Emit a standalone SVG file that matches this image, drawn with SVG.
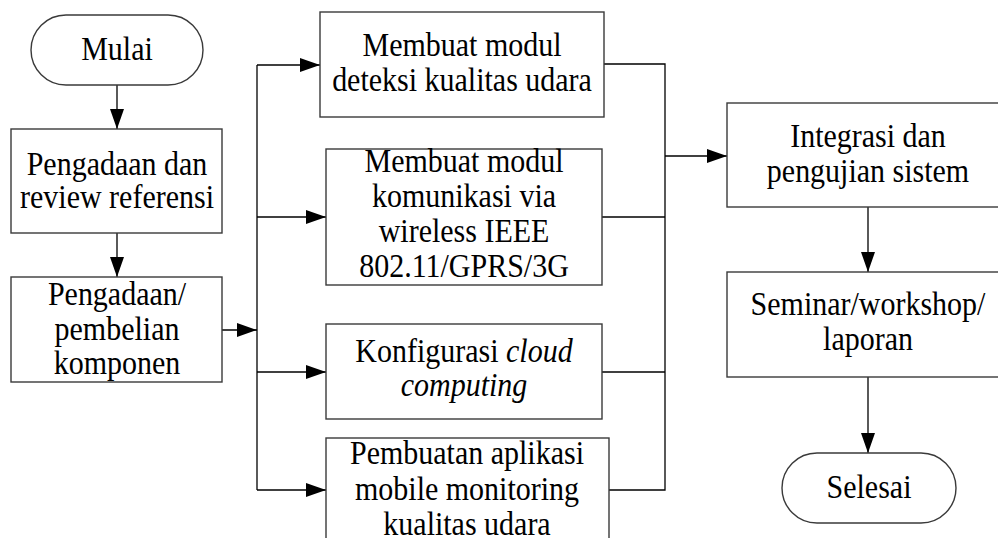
<svg xmlns="http://www.w3.org/2000/svg" width="998" height="538" viewBox="0 0 998 538">
<defs>
<marker id="ah" markerUnits="userSpaceOnUse" markerWidth="20" markerHeight="14" refX="20" refY="7" orient="auto">
<path d="M0,0 L20,7 L0,14 z" fill="#000"/>
</marker>
<style>
.box{fill:#fff;stroke:#3a3a3a;stroke-width:1.4}
.ln{fill:none;stroke:#000;stroke-width:1.3}
.ar{fill:none;stroke:#000;stroke-width:1.3;marker-end:url(#ah)}
text{font-family:"Liberation Serif","Times New Roman",serif;font-size:30px;fill:#000;text-anchor:middle}
.it{font-style:italic}
</style>
</defs>
<rect width="998" height="538" fill="#fff"/>
<g id="connectors">
<path class="ar" d="M117,85 V129"/>
<path class="ar" d="M117,233 V277"/>
<path class="ar" d="M222,330 H257"/>
<path class="ln" d="M257,65 V490"/>
<path class="ar" d="M257,65 H320"/>
<path class="ar" d="M257,217 H326"/>
<path class="ar" d="M257,372 H326"/>
<path class="ar" d="M257,490 H326"/>
<path class="ln" d="M604,64 H665 V490 H609"/>
<path class="ln" d="M602,217 H665"/>
<path class="ln" d="M602,372 H665"/>
<path class="ar" d="M665,156 H727"/>
<path class="ar" d="M868,207 V272"/>
<path class="ar" d="M868,377 V453"/>
</g>
<g id="mulai">
<rect class="box" x="31" y="15" width="172" height="70" rx="35" ry="35"/>
<text transform="translate(117,60) scale(1,1.1)">Mulai</text>
</g>
<g id="pengadaan-review">
<rect class="box" x="11" y="129" width="211" height="104"/>
<text transform="translate(117,175) scale(1,1.1)">Pengadaan dan</text>
<text transform="translate(117,208) scale(1,1.1)">review referensi</text>
</g>
<g id="pengadaan-pembelian">
<rect class="box" x="11" y="277" width="211" height="105"/>
<text transform="translate(117,305) scale(1,1.1)">Pengadaan/</text>
<text transform="translate(117,340) scale(1,1.1)">pembelian</text>
<text transform="translate(117,374) scale(1,1.1)">komponen</text>
</g>
<g id="modul-deteksi">
<rect class="box" x="320" y="12" width="284" height="105"/>
<text transform="translate(462,56) scale(1,1.1)">Membuat modul</text>
<text transform="translate(462,91) scale(1,1.1)">deteksi kualitas udara</text>
</g>
<g id="modul-komunikasi">
<rect class="box" x="326" y="149" width="276" height="136"/>
<text transform="translate(464,172) scale(1,1.1)">Membuat modul</text>
<text transform="translate(464,207) scale(1,1.1)">komunikasi via</text>
<text transform="translate(464,242) scale(1,1.1)">wireless IEEE</text>
<text transform="translate(464,277) scale(1,1.1)">802.11/GPRS/3G</text>
</g>
<g id="cloud">
<rect class="box" x="326" y="324" width="276" height="95"/>
<text transform="translate(464,362) scale(1,1.1)">Konfigurasi <tspan class="it">cloud</tspan></text>
<text class="it" transform="translate(464,396) scale(1,1.1)">computing</text>
</g>
<g id="aplikasi">
<rect class="box" x="326" y="438" width="283" height="120"/>
<text transform="translate(467,464) scale(1,1.1)">Pembuatan aplikasi</text>
<text transform="translate(467,500) scale(1,1.1)">mobile monitoring</text>
<text transform="translate(467,535) scale(1,1.1)">kualitas udara</text>
</g>
<g id="integrasi">
<rect class="box" x="727" y="103" width="282" height="104"/>
<text transform="translate(868,147) scale(1,1.1)">Integrasi dan</text>
<text transform="translate(868,182) scale(1,1.1)">pengujian sistem</text>
</g>
<g id="seminar">
<rect class="box" x="727" y="272" width="282" height="105"/>
<text transform="translate(868,315) scale(1,1.1)">Seminar/workshop/</text>
<text transform="translate(868,350) scale(1,1.1)">laporan</text>
</g>
<g id="selesai">
<rect class="box" x="782" y="453" width="174" height="70" rx="35" ry="35"/>
<text transform="translate(869,498) scale(1,1.1)">Selesai</text>
</g>
</svg>
